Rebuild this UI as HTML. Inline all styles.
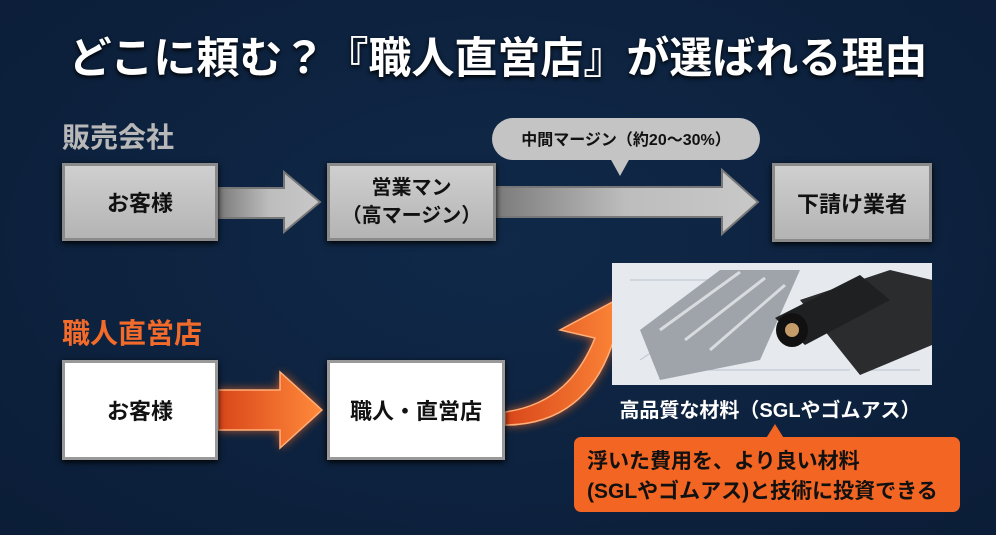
<!DOCTYPE html>
<html><head><meta charset="utf-8"><style>
body{margin:0;width:996px;height:535px;overflow:hidden;background:radial-gradient(ellipse at 50% 45%,#102949,#0b1d37);font-family:"Liberation Sans","Noto Sans CJK JP",sans-serif;position:relative}
.a{position:absolute}
.t{left:0;width:996px;top:24px;text-align:center;color:#fff;font-size:43px;font-weight:bold;text-shadow:0 2px 4px #000}
.box{position:absolute;display:flex;align-items:center;justify-content:center;flex-direction:column;font-weight:bold;color:#111;box-sizing:border-box}
.g{background:linear-gradient(#cfcfcf,#b4b4b4);border:3px solid #8a8a8a;box-shadow:0 2px 6px #000}
.w{background:#fff;border:3px solid #999;box-shadow:0 2px 6px #000}
</style></head><body>
<div class="a t">どこに頼む？『職人直営店』が選ばれる理由</div>
<div class="a" style="left:62px;top:116px;color:#b8b8b8;font-size:28px;font-weight:bold">販売会社</div>
<div class="a" style="left:62px;top:312px;color:#f36b2b;font-size:28px;font-weight:bold">職人直営店</div>
<svg class="a" style="left:0;top:0" width="996" height="535">
<defs>
<linearGradient id="gg" x1="0" x2="1"><stop offset="0" stop-color="#7a7a7a"/><stop offset="0.5" stop-color="#bdbdbd"/><stop offset="1" stop-color="#c8c8c8"/></linearGradient>
<linearGradient id="og" x1="0" x2="1"><stop offset="0" stop-color="#d9461a"/><stop offset="1" stop-color="#ff8a3a"/></linearGradient>
<filter id="gl"><feGaussianBlur stdDeviation="5"/></filter>
</defs>
<polygon points="218,188 284,188 284,172 320,202 284,232 284,218 218,218" fill="url(#gg)" stroke="#777" stroke-width="2"/>
<polygon points="494,187 722,187 722,170 758,202 722,234 722,217 494,217" fill="url(#gg)" stroke="#777" stroke-width="2"/>
<rect x="492" y="118" width="268" height="42" rx="21" fill="#c4c4c4"/>
<polygon points="610,158 630,158 620,176" fill="#c4c4c4"/>
<text x="626" y="145" font-size="16" font-weight="bold" text-anchor="middle" fill="#111">中間マージン（約20〜30%）</text>
<g filter="url(#gl)" opacity="0.8"><polygon points="218,390 280,390 280,372 322,410 280,448 280,430 218,430" fill="#ff6a1a"/><path d="M505,412 C555,405 580,375 595,338 L560,330 L620,298 L628,358 L612,345 C595,395 560,425 505,425Z" fill="#ff6a1a"/></g>
<polygon points="218,390 280,390 280,372 322,410 280,448 280,430 218,430" fill="url(#og)" stroke="#ffb07a" stroke-width="1.5"/>
<path d="M505,412 C555,405 580,375 595,338 L560,330 L620,298 L628,358 L612,345 C595,395 560,425 505,425Z" fill="url(#og)" stroke="#ffb07a" stroke-width="1.5"/>
<rect x="612" y="263" width="320" height="122" fill="#e6eaee"/>
<g stroke="#b8c2cc" stroke-width="1" fill="none"><path d="M630,280 h90 v60 h-70 M700,370 h150 M860,300 v70 h60 M640,360 l60,-40"/></g>
<polygon points="640,330 720,270 800,270 760,360 660,380" fill="#9ea4aa"/>
<g stroke="#d8dcdf" stroke-width="3"><line x1="660" y1="330" x2="740" y2="272"/><line x1="685" y1="340" x2="765" y2="278"/><line x1="710" y1="350" x2="785" y2="285"/></g>
<polygon points="800,300 890,270 932,280 932,345 860,375" fill="#2a2c2e"/>
<polygon points="775,318 860,275 890,300 805,345" fill="#1f2022"/>
<ellipse cx="792" cy="330" rx="16" ry="17" fill="#111"/><circle cx="792" cy="330" r="7" fill="#c59b6a"/>
<text x="770" y="417" font-size="20" font-weight="bold" text-anchor="middle" fill="#fff">高品質な材料（SGLやゴムアス）</text>
<polygon points="765,440 785,440 775,424" fill="#f26522"/>
<rect x="574" y="437" width="386" height="75" rx="7" fill="#f26522"/>
<text x="587" y="468" font-size="21" font-weight="bold" fill="#111">浮いた費用を、より良い材料</text>
<text x="587" y="498" font-size="21" font-weight="bold" fill="#111">(SGLやゴムアス)と技術に投資できる</text>
</svg>
<div class="box g" style="left:62px;top:163px;width:156px;height:78px;font-size:22px">お客様</div>
<div class="box g" style="left:327px;top:163px;width:169px;height:78px;font-size:20px;line-height:28px">営業マン<span>（高マージン）</span></div>
<div class="box g" style="left:772px;top:163px;width:160px;height:79px;font-size:22px">下請け業者</div>
<div class="box w" style="left:62px;top:360px;width:156px;height:100px;font-size:22px">お客様</div>
<div class="box w" style="left:327px;top:360px;width:178px;height:100px;font-size:22px">職人・直営店</div>
</body></html>
